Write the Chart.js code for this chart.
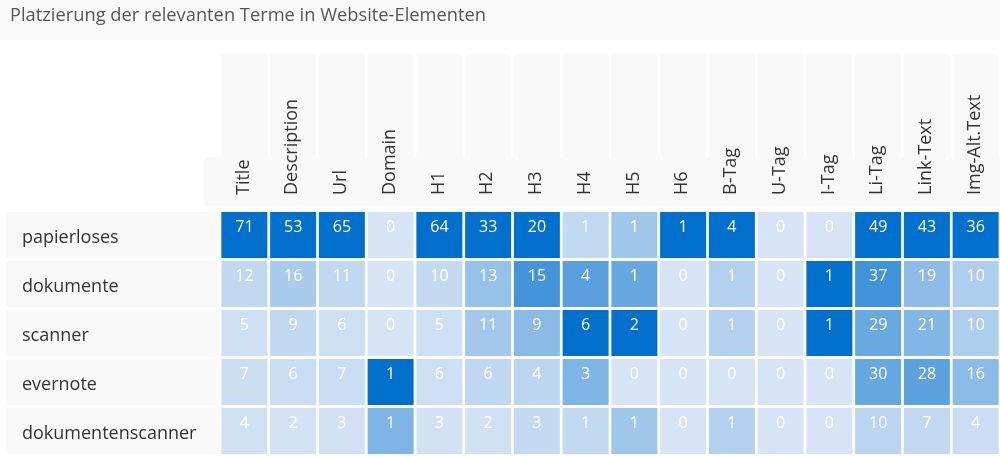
<!DOCTYPE html>
<html>
<head>
<meta charset="utf-8">
<script src="https://cdn.jsdelivr.net/npm/chart.js@4.4.1/dist/chart.umd.min.js"></script>
<style>
  html, body { margin: 0; padding: 0; background: #fff; }
  #wrap { width: 1000px; height: 456px; position: relative; }
</style>
</head>
<body>
<div id="wrap"><canvas id="heat"></canvas></div>
<script>
// Data (some cells keep a decimal so the shading matches)
const chartTitle = 'Platzierung der relevanten Terme in Website-Elementen';
const elements = ['Title', 'Description', 'Url', 'Domain', 'H1', 'H2', 'H3', 'H4', 'H5', 'H6',
  'B-Tag', 'U-Tag', 'I-Tag', 'Li-Tag', 'Link-Text', 'Img-Alt.Text'];
const terms = ['papierloses', 'dokumente', 'scanner', 'evernote', 'dokumentenscanner'];

const papierloses       = [71, 53, 65, 0,   64, 33, 20, 1, 0.7, 1, 4, 0, 0, 49, 43, 36];
const dokumente         = [12, 16, 11, 0,   10, 13, 15, 4, 1.2, 0, 1, 0, 1, 37, 19, 10];
const scanner           = [5,  9,  6,  0,   5,  11, 9,  6, 2,   0, 1, 0, 1, 29, 21, 10];
const evernote          = [7,  6,  7,  1.4, 6,  6,  4,  3, 0,   0, 0, 0, 0, 30, 28, 16];
const dokumentenscanner = [4,  2,  3,  0.7, 3,  2,  3,  1, 0.7, 0, 1, 0, 0, 10, 7,  4];

const rows = [papierloses, dokumente, scanner, evernote, dokumentenscanner];

const LIGHT = [214, 228, 245];
const DARK = [0, 112, 204];
const FONT = '"Open Sans", "Noto Sans", sans-serif';

// shade each cell relative to the max of its column
const colMax = elements.map((_, i) => Math.max(...rows.map(r => r[i])));

function cellColor(v, i) {
  const t = colMax[i] > 0 ? Math.pow(v / colMax[i], 1.3) : 0;
  const c = LIGHT.map((l, k) => Math.round(l + (DARK[k] - l) * t));
  return `rgb(${c[0]},${c[1]},${c[2]})`;
}

const datasets = rows.map((vals, r) => ({
  label: terms[r],
  data: vals.map(() => [r + 0.02, r + 0.96]),
  backgroundColor: vals.map((v, i) => cellColor(v, i)),
  borderWidth: 0,
  grouped: false,
  barPercentage: 0.944,
  categoryPercentage: 1
}));

const framePlugin = {
  id: 'frame',
  beforeDraw(chart) {
    const ctx = chart.ctx;
    const x = chart.scales.x;
    const y = chart.scales.y;
    ctx.save();

    // title band
    ctx.fillStyle = '#fafafa';
    ctx.fillRect(0, 0, chart.width, 40);
    ctx.fillStyle = '#555';
    ctx.font = '18.3px ' + FONT;
    ctx.textBaseline = 'alphabetic';
    ctx.textAlign = 'left';
    ctx.fillText(chartTitle, 10, 21);

    // column header tiles
    ctx.fillStyle = '#f9f9f9';
    elements.forEach((_, i) => {
      const cx = x.getPixelForValue(i);
      ctx.fillRect(cx - 23, 54, 46, 104);
    });
    ctx.fillRect(205, 157, chart.width - 205, 49);

    // row label backgrounds
    terms.forEach((_, r) => {
      const top = y.getPixelForValue(r + 0.02);
      const bot = y.getPixelForValue(r + 0.96);
      ctx.fillRect(6, top, 213, bot - top);
    });

    // column labels (rotated)
    ctx.fillStyle = '#333';
    ctx.font = '18px ' + FONT;
    ctx.textBaseline = 'middle';
    elements.forEach((name, i) => {
      const cx = x.getPixelForValue(i);
      ctx.save();
      ctx.translate(cx - 1, 195);
      ctx.rotate(-Math.PI / 2);
      ctx.textAlign = 'left';
      ctx.fillText(name, 0, 0);
      ctx.restore();
    });

    // row labels
    ctx.font = '18px ' + FONT;
    terms.forEach((name, r) => {
      ctx.fillText(name, 22, y.getPixelForValue(r + 0.54));
    });
    ctx.restore();
  },
  afterDatasetsDraw(chart) {
    const ctx = chart.ctx;
    ctx.save();
    ctx.fillStyle = '#fff';
    ctx.font = '16px ' + FONT;
    ctx.textAlign = 'center';
    ctx.textBaseline = 'middle';
    rows.forEach((vals, r) => {
      const meta = chart.getDatasetMeta(r);
      meta.data.forEach((el, i) => {
        const top = Math.min(el.y, el.base);
        ctx.fillText(String(Math.round(vals[i])), el.x, top + 15);
      });
    });
    ctx.restore();
  }
};

new Chart(document.getElementById('heat'), {
  type: 'bar',
  data: { labels: elements, datasets: datasets },
  options: {
    responsive: true,
    maintainAspectRatio: false,
    animation: false,
    events: [],
    layout: { padding: { left: 220, top: 211, right: 0, bottom: 0 } },
    plugins: { legend: { display: false }, tooltip: { enabled: false } },
    scales: {
      x: { display: false, offset: true },
      y: { display: false, min: 0, max: 5, reverse: true }
    }
  },
  plugins: [framePlugin]
});
</script>
</body>
</html>
